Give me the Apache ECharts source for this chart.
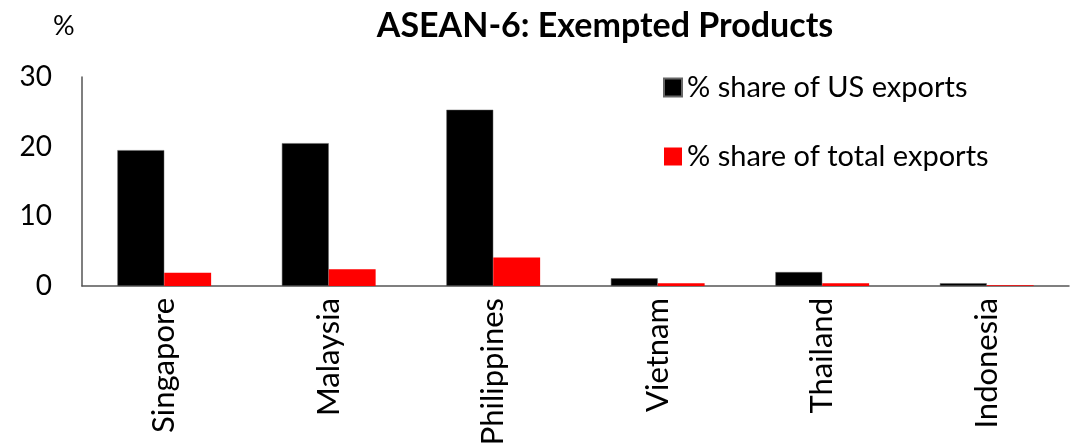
<!DOCTYPE html>
<html>
<head>
<meta charset="utf-8">
<script src="https://cdn.jsdelivr.net/npm/echarts@6/dist/echarts.min.js"></script>
<style>
  html, body { margin: 0; padding: 0; background: #fff; }
  #main { width: 1076px; height: 445px; }
</style>
</head>
<body>
<div id="main"></div>
<script>
// data
var countries = ['Singapore', 'Malaysia', 'Philippines', 'Vietnam', 'Thailand', 'Indonesia'];
var usShare = [19.5, 20.5, 25.3, 1.1, 2.0, 0.4];
var totalShare = [1.9, 2.4, 4.1, 0.4, 0.4, 0.1];
var yTicks = [0, 10, 20, 30];

var font = 'Lato, "Open Sans", sans-serif';
var chart = echarts.init(document.getElementById('main'));

var option = {
    backgroundColor: '#ffffff',
    animation: false,
    title: [{
        text: 'ASEAN-6: Exempted Products',
        left: 600,
        textAlign: 'center',
        top: 4,
        textStyle: { fontFamily: font, fontSize: 34, fontWeight: 'bold', color: '#000' }
    }, {
        text: '%',
        left: 48,
        top: 8,
        textStyle: { fontFamily: font, fontSize: 27, fontWeight: 'normal', color: '#000' }
    }],
    legend: {
        orient: 'vertical',
        left: 658,
        top: 68,
        itemGap: 40,
        itemWidth: 18,
        itemHeight: 18,
        icon: 'rect',
        textStyle: { fontFamily: font, fontSize: 29, color: '#000' },
        data: ['% share of US exports', '% share of total exports']
    },
    grid: { left: 82, right: 7, top: 77, bottom: 159, containLabel: false, outerBoundsMode: 'none' },
    xAxis: {
        type: 'category',
        data: countries,
        axisLine: { lineStyle: { color: '#555', width: 1.5 } },
        axisTick: { show: false },
        axisLabel: { rotate: 90, margin: 12, fontFamily: font, fontSize: 31, color: '#000' }
    },
    yAxis: {
        type: 'value',
        min: yTicks[0],
        max: yTicks[yTicks.length - 1],
        interval: 10,
        axisLine: { show: true, lineStyle: { color: '#555', width: 1.5 } },
        axisTick: { show: false },
        splitLine: { show: false },
        axisLabel: { margin: 30, fontFamily: font, fontSize: 28, color: '#000' }
    },
    series: [{
        name: '% share of US exports',
        type: 'bar',
        data: usShare,
        barGap: '0%',
        barCategoryGap: '43%',
        itemStyle: { color: '#000', borderColor: '#666', borderWidth: 0.5 }
    }, {
        name: '% share of total exports',
        type: 'bar',
        data: totalShare,
        itemStyle: { color: '#ff0000' }
    }]
};

chart.setOption(option);
</script>
</body>
</html>
